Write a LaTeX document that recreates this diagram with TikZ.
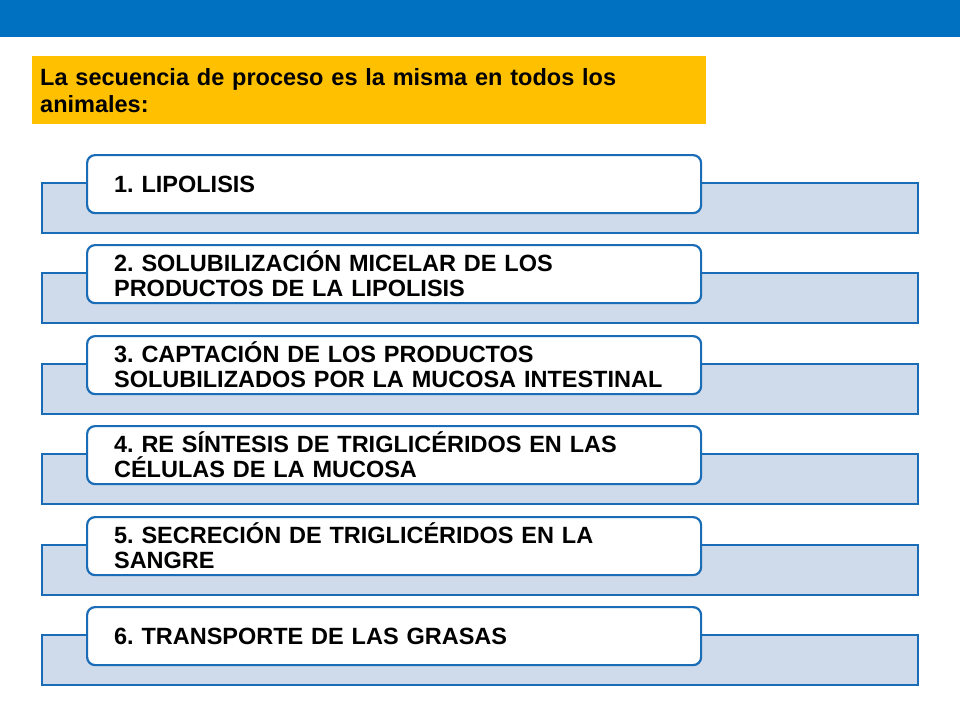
\documentclass[tikz,border=0pt]{standalone}
\usepackage{fontspec}
\setmainfont{Liberation Sans}
\frenchspacing
\definecolor{topblue}{HTML}{0070C0}
\definecolor{hdryellow}{HTML}{FFC000}
\definecolor{stepline}{HTML}{1A6CB6}
\definecolor{bandfill}{HTML}{CFDAEA}

\begin{document}
\begin{tikzpicture}[x=1pt,y=-1pt]
\tikzset{
  band/.style={draw=stepline,line width=2.6pt,fill=bandfill},
  card/.style={draw=stepline,line width=2.2pt,fill=white,rounded corners=8pt,
    anchor=north west,minimum height=58pt,text width=560pt,inner xsep=27pt,
    inner ysep=0pt,align=left,font=\bfseries\fontsize{23.5}{25}\selectfont},
  hdr/.style={fill=hdryellow,anchor=north west,minimum height=68pt,text width=658pt,
    inner xsep=8pt,inner ysep=0pt,align=left,font=\bfseries\fontsize{23.5}{27}\selectfont}
}
\useasboundingbox (0,0) rectangle (960,720);
\fill[topblue] (0,0) rectangle (960,37);
\node[hdr] (titulo) at (32,56) {La secuencia de proceso es la misma en todos los\\animales:};

\foreach \i/\y/\txt in {
  1/154/{1. LIPOLISIS},
  2/244/{2. SOLUBILIZACIÓN MICELAR DE LOS\\PRODUCTOS DE LA LIPOLISIS},
  3/335/{3. CAPTACIÓN DE LOS PRODUCTOS\\SOLUBILIZADOS POR LA MUCOSA INTESTINAL},
  4/425/{4. RE SÍNTESIS DE TRIGLICÉRIDOS EN LAS\\CÉLULAS DE LA MUCOSA},
  5/516/{5. SECRECIÓN DE TRIGLICÉRIDOS EN LA\\SANGRE},
  6/606/{6. TRANSPORTE DE LAS GRASAS}} {
  \draw[band] (42,\y+29) rectangle (918,\y+79);
  \node[card] (paso\i) at (86,\y) {\txt};
}
\end{tikzpicture}
\end{document}
